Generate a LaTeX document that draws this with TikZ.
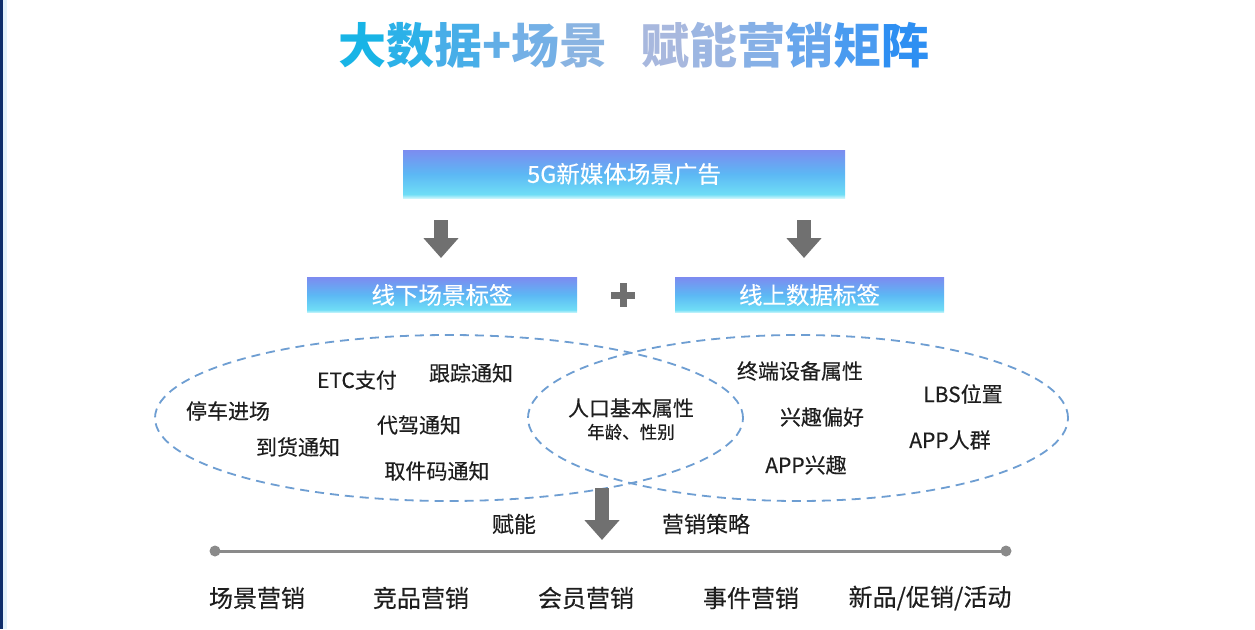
\documentclass[tikz,border=0pt]{standalone}
\usepackage{fontspec}
\setmainfont{Noto Sans CJK SC}
\newfontfamily\medfont{Noto Sans CJK SC}[FakeBold=0.3]
\usetikzlibrary{shapes.geometric,arrows.meta}
\definecolor{navy}{HTML}{0E2D6B}
\definecolor{edgelight}{HTML}{E2F1FB}
\definecolor{arrowgray}{HTML}{707070}
\definecolor{linegray}{HTML}{8A8A8A}
\definecolor{dashblue}{HTML}{6E9ED2}
\definecolor{txt}{HTML}{1E1E1E}
\definecolor{bxTop}{HTML}{7C8CF0}
\definecolor{bxMid}{HTML}{5CB8F4}
\definecolor{bxBot}{HTML}{6FDDF6}
\definecolor{bxEdge}{HTML}{C8F4FB}
\definecolor{tA}{HTML}{18B4E6}
\definecolor{tB}{HTML}{2CB1E8}
\definecolor{tC}{HTML}{48AEE8}
\definecolor{tD}{HTML}{62AEE6}
\definecolor{tE}{HTML}{74B0E6}
\definecolor{tF}{HTML}{8AB4E2}
\definecolor{tG}{HTML}{A8B8DE}
\definecolor{tH}{HTML}{9CB6E2}
\definecolor{tI}{HTML}{86B0E6}
\definecolor{tJ}{HTML}{68A6EC}
\definecolor{tK}{HTML}{4A9BF0}
\definecolor{tL}{HTML}{2E8FF2}
\pgfdeclareverticalshading{tagshade}{100bp}{color(0bp)=(bxEdge); color(25bp)=(bxEdge); color(29bp)=(bxBot); color(50bp)=(bxMid); color(75bp)=(bxTop); color(100bp)=(bxTop)}
\tikzset{
  tagbox/.style={shading=tagshade, text=white, inner sep=0, font=\medfont\fontsize{23.5}{26}\selectfont},
  lbl/.style={text=txt, inner sep=0, font=\medfont\fontsize{21}{24}\selectfont},
  sublbl/.style={text=txt, inner sep=0, font=\medfont\fontsize{17.5}{20}\selectfont},
  midlbl/.style={text=txt, inner sep=0, font=\medfont\fontsize{22}{26}\selectfont},
  botlbl/.style={text=txt, inner sep=0, font=\medfont\fontsize{24}{28}\selectfont},
  venn/.style={draw=dashblue, ellipse, inner sep=0, line width=1.8pt, dash pattern=on 9pt off 6pt},
  bigarrow/.style={draw=arrowgray, line width=14pt, -{Triangle[width=34pt,length=20pt,fill=arrowgray]}},
  axis/.style={draw=linegray, line width=3pt},
}
\begin{document}
\begin{tikzpicture}[x=1pt,y=-1pt]
\useasboundingbox (0,0) rectangle (1255,629);
\fill[white] (0,0) rectangle (1255,629);
\fill[edgelight] (0,0) rectangle (7,629);
\fill[navy] (0,0) rectangle (3,629);

% title
\node[inner sep=0, font=\fontsize{48}{52}\selectfont\bfseries] (title) at (634,45)
 {\textcolor{tA}{大}\textcolor{tB}{数}\textcolor{tC}{据}\textcolor{tD}{+}\textcolor{tE}{场}\textcolor{tF}{景}\hspace{0.7em}\textcolor{tG}{赋}\textcolor{tH}{能}\textcolor{tI}{营}\textcolor{tJ}{销}\textcolor{tK}{矩}\textcolor{tL}{阵}};

% boxes
\node[tagbox, minimum width=442, minimum height=48] (top) at (624,174) {5G新媒体场景广告};
\node[tagbox, minimum width=270, minimum height=35] (ltag) at (442,295) {线下场景标签};
\node[tagbox, minimum width=269, minimum height=35] (rtag) at (809.5,295) {线上数据标签};

% plus
\node[inner sep=0, minimum size=24] (plus) at (623,295) {};
\fill[arrowgray] ([xshift=-3.5pt]plus.north) rectangle ([xshift=3.5pt]plus.south);
\fill[arrowgray] ([yshift=3.5pt]plus.west) rectangle ([yshift=-3.5pt]plus.east);

% arrows
\coordinate (la1) at (441,220);
\coordinate (la2) at (441,258);
\coordinate (ra1) at (804,220);
\coordinate (ra2) at (804,258);
\draw[bigarrow] (la1) -- (la2);
\draw[bigarrow] (ra1) -- (ra2);

% venn
\node[venn, minimum width=588, minimum height=166] (lell) at (449,418) {};
\node[venn, minimum width=540, minimum height=166] (rell) at (798,418) {};

% left labels
\node[lbl] (n1) at (228,411) {停车进场};
\node[lbl] (n2) at (357,380) {ETC支付};
\node[lbl] (n3) at (471,373) {跟踪通知};
\node[lbl] (n4) at (419,425) {代驾通知};
\node[lbl] (n5) at (298,447) {到货通知};
\node[lbl] (n6) at (437,471) {取件码通知};
% middle
\node[lbl] (m1) at (631,408) {人口基本属性};
\node[sublbl] (m2) at (631,432) {年龄、性别};
% right
\node[lbl] (r1) at (800,371) {终端设备属性};
\node[lbl] (r2) at (822,417) {兴趣偏好};
\node[lbl] (r3) at (806,465) {APP兴趣};
\node[lbl] (r4) at (963,394) {LBS位置};
\node[lbl] (r5) at (950,440) {APP人群};

% central arrow
\coordinate (ca1) at (602,488);
\coordinate (ca2) at (602,540);
\draw[bigarrow] (ca1) -- (ca2);
\node[midlbl] (fn) at (514,524) {赋能};
\node[midlbl] (cl) at (706,524) {营销策略};

% axis
\coordinate (ax0) at (215,551);
\coordinate (ax1) at (1006,551);
\draw[axis] (ax0) -- (ax1);
\fill[linegray] (ax0) circle (5.5);
\fill[linegray] (ax1) circle (5.5);

% bottom labels
\node[botlbl] (b1) at (257,598) {场景营销};
\node[botlbl] (b2) at (421,598) {竞品营销};
\node[botlbl] (b3) at (586,598) {会员营销};
\node[botlbl] (b4) at (751,598) {事件营销};
\node[botlbl] (b5) at (930,598) {新品/促销/活动};
\end{tikzpicture}
\end{document}
